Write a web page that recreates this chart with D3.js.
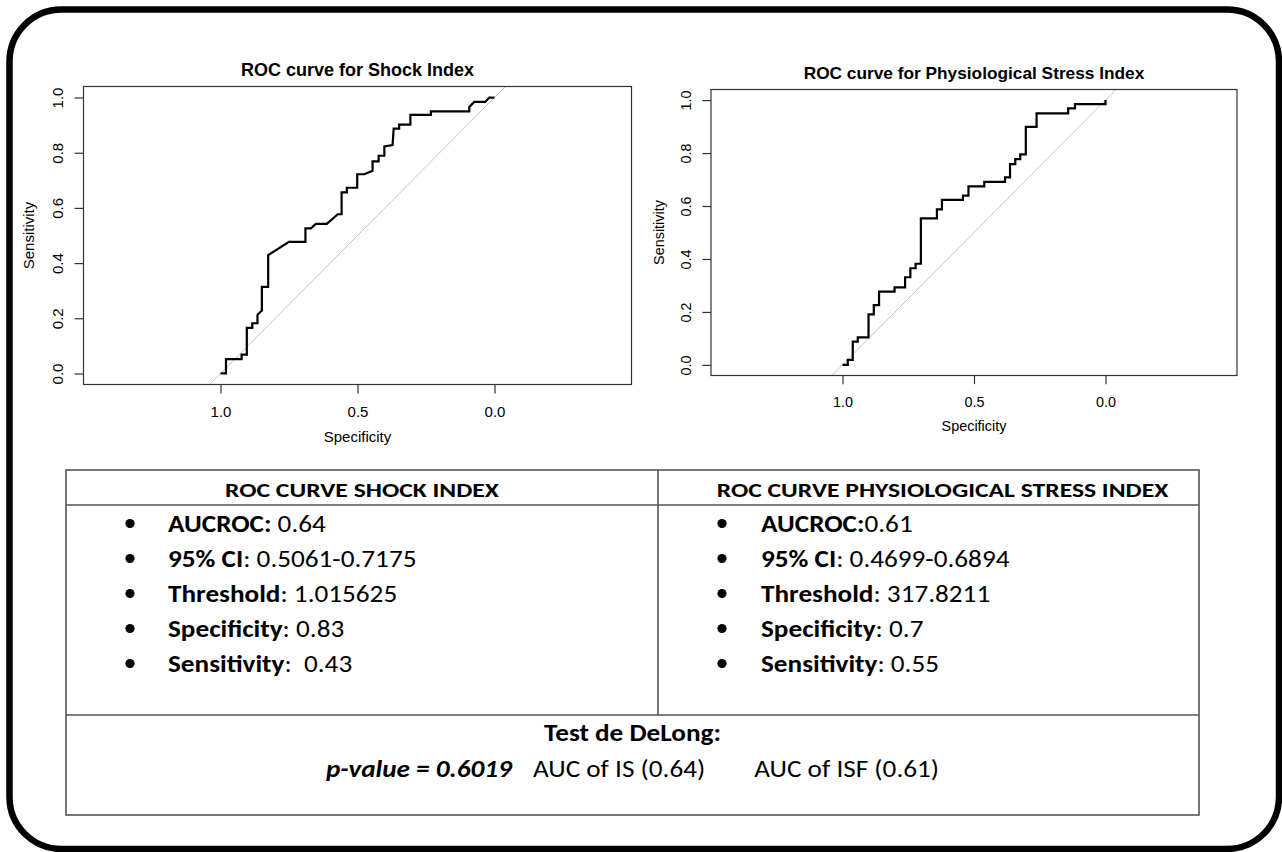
<!DOCTYPE html>
<html>
<head>
<meta charset="utf-8">
<script src="https://cdn.jsdelivr.net/npm/d3@7"></script>
<style>
  body { margin: 0; background: #fff; }
  svg { display: block; }
  .rplot text { font-family: "Liberation Sans", Arial, sans-serif; fill: #000; }
  .tbl text { font-family: Carlito, Calibri, Lato, sans-serif; fill: #000; white-space: pre; }
</style>
</head>
<body>
<svg id="fig" width="1282" height="852"></svg>
<script>
// step vertices (specificity, sensitivity)
const shockSpec = [1.000, 0.980, 0.980, 0.923, 0.923, 0.904, 0.904, 0.884, 0.884, 0.865, 0.865, 0.849, 0.849, 0.826, 0.826,
  0.750, 0.690, 0.690, 0.670, 0.652, 0.612, 0.572, 0.558, 0.558, 0.539, 0.539, 0.501, 0.501, 0.475, 0.445, 0.445,
  0.423, 0.423, 0.402, 0.402, 0.372, 0.368, 0.348, 0.348, 0.307, 0.307, 0.232, 0.232, 0.092, 0.092, 0.074, 0.034,
  0.019, 0.000];
const shockSens = [0.000, 0.000, 0.052, 0.052, 0.068, 0.068, 0.165, 0.165, 0.182, 0.182, 0.213, 0.228, 0.314, 0.314, 0.429,
  0.477, 0.477, 0.526, 0.526, 0.542, 0.542, 0.577, 0.577, 0.656, 0.656, 0.673, 0.673, 0.722, 0.722, 0.735, 0.769,
  0.769, 0.789, 0.789, 0.823, 0.828, 0.887, 0.887, 0.902, 0.902, 0.937, 0.937, 0.950, 0.950, 0.966, 0.984, 0.984,
  1.000, 1.000];

const psiSpec = [1.000, 0.980, 0.980, 0.961, 0.961, 0.942, 0.942, 0.901, 0.901, 0.881, 0.881, 0.861, 0.861, 0.802, 0.802,
  0.762, 0.762, 0.742, 0.742, 0.722, 0.722, 0.702, 0.702, 0.641, 0.641, 0.622, 0.622, 0.542, 0.542, 0.521, 0.521,
  0.461, 0.461, 0.382, 0.382, 0.363, 0.363, 0.343, 0.343, 0.324, 0.324, 0.303, 0.303, 0.262, 0.262, 0.142, 0.142,
  0.116, 0.116, 0.000, 0.000];
const psiSens = [0.000, 0.000, 0.019, 0.019, 0.088, 0.088, 0.104, 0.104, 0.191, 0.191, 0.226, 0.226, 0.277, 0.277, 0.293,
  0.293, 0.331, 0.331, 0.365, 0.365, 0.382, 0.382, 0.553, 0.553, 0.587, 0.587, 0.623, 0.623, 0.639, 0.639, 0.674,
  0.674, 0.691, 0.691, 0.708, 0.708, 0.758, 0.758, 0.777, 0.777, 0.795, 0.795, 0.899, 0.899, 0.950, 0.950, 0.969,
  0.969, 0.985, 0.985, 1.000];

const specTicks = [1.0, 0.5, 0.0];
const sensTicks = [0.0, 0.2, 0.4, 0.6, 0.8, 1.0];
const plotTitles = ["ROC curve for Shock Index", "ROC curve for Physiological Stress Index"];

// summary table
const tableHeads = ["ROC CURVE SHOCK INDEX", "ROC CURVE PHYSIOLOGICAL STRESS INDEX"];
const shockStats = [["AUCROC:", " 0.64"], ["95% CI", ": 0.5061-0.7175"], ["Threshold", ": 1.015625"],
  ["Specificity", ": 0.83"], ["Sensitivity", ":  0.43"]];
const psiStats = [["AUCROC:", "0.61"], ["95% CI", ": 0.4699-0.6894"], ["Threshold", ": 317.8211"],
  ["Specificity", ": 0.7"], ["Sensitivity", ": 0.55"]];
const delongTitle = "Test de DeLong:";
const delongP = "p-value = 0.6019";
const delongAuc = ["AUC of IS (0.64)", "AUC of ISF (0.61)"];

const svg = d3.select("#fig");

// rounded frame round the whole figure
svg.append("rect")
  .attr("x", 9.5).attr("y", 9.5)
  .attr("width", 1269.5).attr("height", 839.5)
  .attr("rx", 52).attr("ry", 52)
  .attr("fill", "#fff")
  .attr("stroke", "#000")
  .attr("stroke-width", 6.5);

const panels = [
  { title: plotTitles[0], spec: shockSpec, sens: shockSens, left: 83.5, top: 86.5, right: 631.5, bottom: 384.5, fs: 15 },
  { title: plotTitles[1], spec: psiSpec, sens: psiSens, left: 711, top: 89.5, right: 1237, bottom: 375.5, fs: 14.4 }
];

panels.forEach(p => {
  const k = p.fs / 15;
  const g = svg.append("g").attr("class", "rplot");
  const x = d3.scaleLinear().domain([1.5, -0.5]).range([p.left, p.right]);
  const y = d3.scaleLinear().domain([-0.04, 1.04]).range([p.bottom, p.top]);

  // chance line
  g.append("line")
    .attr("x1", x(1.04)).attr("y1", y(-0.04))
    .attr("x2", x(-0.04)).attr("y2", y(1.04))
    .attr("stroke", "#c6c6c6")
    .attr("stroke-width", 1);

  const line = d3.line().x(d => x(d[0])).y(d => y(d[1]));
  g.append("path")
    .datum(d3.zip(p.spec, p.sens))
    .attr("d", line)
    .attr("fill", "none")
    .attr("stroke", "#000")
    .attr("stroke-width", 2.2)
    .attr("stroke-linejoin", "miter");

  g.append("rect")
    .attr("x", p.left).attr("y", p.top)
    .attr("width", p.right - p.left).attr("height", p.bottom - p.top)
    .attr("fill", "none")
    .attr("stroke", "#333")
    .attr("stroke-width", 1.2);

  const xAxis = g.append("g")
    .attr("transform", `translate(0,${p.bottom})`)
    .call(d3.axisBottom(x).tickValues(specTicks).tickSize(9 * k)
      .tickPadding(13 * k).tickFormat(d3.format(".1f")));

  const yAxis = g.append("g")
    .attr("transform", `translate(${p.left},0)`)
    .call(d3.axisLeft(y).tickValues(sensTicks).tickSize(9 * k).tickFormat(d3.format(".1f")));

  [xAxis, yAxis].forEach(a => {
    a.select(".domain").remove();
    a.selectAll("line").attr("stroke", "#333").attr("stroke-width", 1.2);
    a.selectAll("text").attr("font-size", p.fs).attr("font-family", null).attr("fill", "#000");
  });
  yAxis.selectAll("text")
    .attr("x", null).attr("dy", null)
    .attr("text-anchor", "middle")
    .attr("transform", `translate(${-20.8 * k},0) rotate(-90)`);

  const cx = (p.left + p.right) / 2;
  const cy = (p.top + p.bottom) / 2;
  g.append("text")
    .attr("x", cx).attr("y", p.bottom + 57.7 * k)
    .attr("text-anchor", "middle")
    .attr("font-size", p.fs)
    .text("Specificity");
  g.append("text")
    .attr("transform", `translate(${p.left - 49.3 * k},${cy}) rotate(-90)`)
    .attr("text-anchor", "middle")
    .attr("font-size", p.fs)
    .text("Sensitivity");
  g.append("text")
    .attr("x", cx).attr("y", p.top - 10.8 * k)
    .attr("text-anchor", "middle")
    .attr("font-size", 18 * k)
    .attr("font-weight", "bold")
    .text(p.title);
});

// table
const T = { left: 66, right: 1199, top: 470, head: 505, mid: 658, split: 715, bottom: 815 };
const bodyFs = 24.5, bodySx = 1.11;   // Lato stretched a little to take Calibri's width
const headFs = 20, headSx = 1.28;
const tbl = svg.append("g").attr("class", "tbl");
const rule = (x1, y1, x2, y2) => tbl.append("line")
  .attr("x1", x1).attr("y1", y1).attr("x2", x2).attr("y2", y2)
  .attr("stroke", "#555").attr("stroke-width", 1.6);

tbl.append("rect")
  .attr("x", T.left).attr("y", T.top)
  .attr("width", T.right - T.left).attr("height", T.bottom - T.top)
  .attr("fill", "none").attr("stroke", "#555").attr("stroke-width", 1.6);
rule(T.left, T.head, T.right, T.head);
rule(T.mid, T.top, T.mid, T.split);
rule(T.left, T.split, T.right, T.split);

const placeText = (x, y, sx) => tbl.append("text")
  .attr("transform", `translate(${x},${y}) scale(${sx},1)`);

// the right header sits a bit right of its cell centre in the original
const cols = [
  { head: tableHeads[0], stats: shockStats, hx: (T.left + T.mid) / 2, bullet: 130, tx: 168 },
  { head: tableHeads[1], stats: psiStats, hx: (T.mid + T.right) / 2 + 14, bullet: 722, tx: 761 }
];
const rowY = i => 532 + i * 35;

cols.forEach(c => {
  placeText(c.hx, 497, headSx)
    .attr("text-anchor", "middle")
    .attr("font-size", headFs)
    .attr("font-weight", "bold")
    .text(c.head);

  c.stats.forEach((s, i) => {
    tbl.append("circle")
      .attr("cx", c.bullet).attr("cy", rowY(i) - 8.5)
      .attr("r", 4.6)
      .attr("fill", "#000");
    const t = placeText(c.tx, rowY(i), bodySx).attr("font-size", bodyFs);
    t.append("tspan").attr("font-weight", "bold").text(s[0]);
    t.append("tspan").text(s[1]);
  });
});

const midX = (T.left + T.right) / 2;
placeText(midX, 741, bodySx)
  .attr("text-anchor", "middle")
  .attr("font-size", bodyFs)
  .attr("font-weight", "bold")
  .text(delongTitle);

const dl = placeText(midX, 777, bodySx)
  .attr("text-anchor", "middle")
  .attr("font-size", bodyFs);
dl.append("tspan").attr("font-weight", "bold").attr("font-style", "italic").text(delongP);
dl.append("tspan").attr("dx", 21 / bodySx).text(delongAuc[0]);
dl.append("tspan").attr("dx", 49 / bodySx).text(delongAuc[1]);
</script>
</body>
</html>
